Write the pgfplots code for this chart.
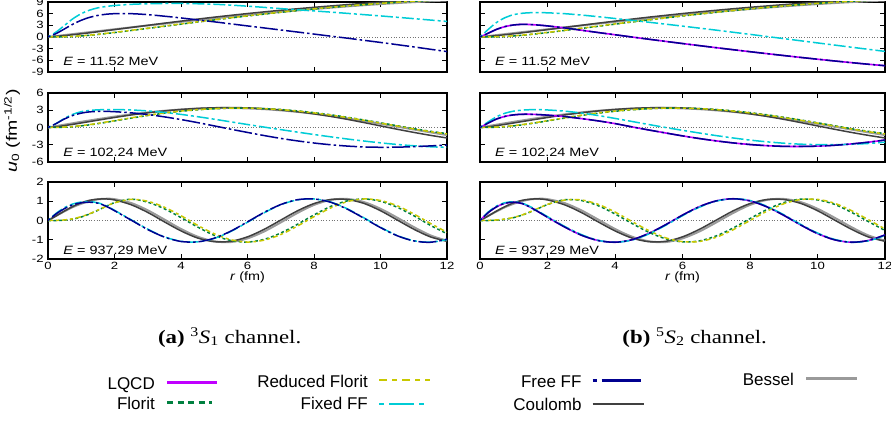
\documentclass[border=0pt]{standalone}
\usepackage{fontspec}
\setmainfont{Liberation Sans}
\newfontfamily\capfont{Liberation Serif}
\usepackage{pgfplots}
\pgfplotsset{compat=1.18}
\usepackage{pgfplotstable}

\definecolor{clqcd}{HTML}{C000FF}
\definecolor{cflo}{HTML}{008040}
\definecolor{crflo}{HTML}{C8C800}
\definecolor{cfix}{HTML}{00CCD6}
\definecolor{cfree}{HTML}{000090}
\definecolor{ccou}{HTML}{404040}
\definecolor{cbes}{HTML}{9A9A9A}

% Bessel, Coulomb, Florit, Reduced Florit (same in both channels)
\pgfplotstableread{
r bes cou flo rfl
0 0 0 0 0
0.25 0.25 0.17 0.01 0.02
0.5 0.50 0.36 0.05 0.08
0.75 0.75 0.59 0.13 0.17
1 1.00 0.83 0.26 0.31
1.25 1.25 1.08 0.44 0.49
1.5 1.49 1.35 0.65 0.70
1.75 1.74 1.62 0.89 0.94
2 1.99 1.90 1.14 1.19
2.5 2.48 2.45 1.67 1.72
3 2.96 3.00 2.20 2.26
3.5 3.43 3.55 2.75 2.81
4 3.90 4.08 3.30 3.36
4.5 4.35 4.60 3.85 3.90
5 4.80 5.10 4.38 4.43
5.5 5.23 5.57 4.90 4.95
6 5.66 6.03 5.40 5.45
6.5 6.07 6.46 5.88 5.93
7 6.46 6.87 6.35 6.39
7.5 6.84 7.26 6.79 6.83
8 7.20 7.63 7.20 7.24
8.5 7.54 7.98 7.59 7.63
9 7.87 8.32 7.96 7.99
9.5 8.18 8.65 8.30 8.33
10 8.46 8.96 8.62 8.65
10.5 8.73 9.25 8.91 8.94
11 8.97 9.52 9.17 9.20
11.5 9.20 9.78 9.41 9.44
12 9.40 10.02 9.62 9.65
}\TopC

\pgfplotstableread{
r bes cou flo rfl
0 0 0 0 0
0.25 0.25 0.12 0.01 0.02
0.5 0.50 0.33 0.05 0.08
0.75 0.74 0.55 0.14 0.18
1 0.99 0.79 0.28 0.33
1.25 1.22 1.03 0.46 0.51
1.5 1.45 1.27 0.67 0.72
1.75 1.67 1.51 0.90 0.95
2 1.89 1.74 1.14 1.19
2.5 2.28 2.18 1.63 1.68
3 2.62 2.56 2.09 2.14
3.5 2.91 2.88 2.49 2.53
4 3.13 3.13 2.82 2.86
4.5 3.29 3.32 3.08 3.11
5 3.38 3.43 3.26 3.28
5.5 3.39 3.46 3.36 3.37
6 3.32 3.41 3.37 3.37
6.5 3.19 3.27 3.29 3.28
7 2.98 3.05 3.13 3.11
7.5 2.72 2.75 2.89 2.86
8 2.39 2.38 2.58 2.54
8.5 2.01 1.93 2.21 2.16
9 1.59 1.42 1.78 1.73
9.5 1.13 0.86 1.31 1.26
10 0.65 0.28 0.82 0.76
10.5 0.15 -0.30 0.31 0.26
11 -0.35 -0.85 -0.20 -0.25
11.5 -0.84 -1.36 -0.66 -0.72
12 -1.32 -1.82 -1.06 -1.12
}\MidC

\pgfplotstableread{
r bes cou
0 0 0
0.25 0.25 0.24
0.5 0.48 0.50
0.75 0.70 0.73
1 0.87 0.92
1.25 1.01 1.05
1.5 1.10 1.11
1.75 1.13 1.12
2 1.11 1.07
2.5 0.91 0.82
3 0.53 0.42
3.5 0.05 -0.07
4 -0.44 -0.54
4.5 -0.84 -0.91
5 -1.08 -1.10
5.5 -1.12 -1.08
6 -0.93 -0.85
6.5 -0.57 -0.46
7 -0.10 0.02
7.5 0.39 0.50
8 0.81 0.88
8.5 1.07 1.09
9 1.12 1.09
9.5 0.96 0.89
10 0.61 0.51
10.5 0.15 0.03
11 -0.34 -0.45
11.5 -0.77 -0.85
12 -1.05 -1.08
}\BotC

% 3S1 channel
\pgfplotstableread{
r fix free
0 0 0
0.25 1.3 0.9
0.5 3.0 2.1
0.75 4.7 3.3
1 6.0 4.3
1.25 6.9 5.05
1.5 7.5 5.55
1.75 7.85 5.85
2 8.1 6.0
2.5 8.4 6.0
3 8.55 5.75
3.5 8.62 5.35
4 8.62 4.9
4.5 8.55 4.4
5 8.42 3.9
5.5 8.2 3.38
6 7.92 2.85
6.5 7.62 2.33
7 7.3 1.8
7.5 7.0 1.28
8 6.7 0.75
8.5 6.4 0.22
9 6.08 -0.3
9.5 5.75 -0.85
10 5.42 -1.4
10.5 5.07 -1.97
11 4.72 -2.55
11.5 4.36 -3.15
12 4.0 -3.75
}\LT

\pgfplotstableread{
r fix free
0 0 0
0.25 0.7 0.7
0.5 1.6 1.5
0.75 2.3 2.1
1 2.75 2.5
1.25 2.97 2.72
1.5 3.07 2.8
1.75 3.12 2.8
2 3.12 2.75
2.5 3.05 2.55
3 2.88 2.25
3.5 2.62 1.85
4 2.28 1.38
4.5 1.88 0.85
5 1.44 0.28
5.5 0.98 -0.3
6 0.52 -0.86
6.5 0.07 -1.4
7 -0.37 -1.9
7.5 -0.8 -2.33
8 -1.22 -2.7
8.5 -1.62 -3.0
9 -2.0 -3.23
9.5 -2.35 -3.38
10 -2.67 -3.44
10.5 -2.95 -3.42
11 -3.18 -3.33
11.5 -3.35 -3.2
12 -3.46 -3.05
}\LM

\pgfplotstableread{
r flo rfl fix free
0 0 0 0 0
0.25 0.00 0.01 0.38 0.35
0.5 0.02 0.03 0.67 0.62
0.75 0.07 0.09 0.86 0.82
1 0.18 0.20 0.96 0.92
1.25 0.34 0.35 0.98 0.95
1.5 0.53 0.54 0.92 0.90
1.75 0.74 0.74 0.76 0.74
2 0.93 0.92 0.53 0.51
2.5 1.11 1.10 0.04 0.02
3 0.95 1.00 -0.45 -0.47
3.5 0.61 0.69 -0.85 -0.86
4 0.15 0.25 -1.08 -1.09
4.5 -0.34 -0.25 -1.11 -1.11
5 -0.77 -0.69 -0.93 -0.92
5.5 -1.04 -1.00 -0.57 -0.55
6 -1.12 -1.12 -0.09 -0.07
6.5 -0.98 -1.02 0.40 0.42
7 -0.65 -0.73 0.82 0.83
7.5 -0.20 -0.29 1.07 1.08
8 0.29 0.20 1.12 1.12
8.5 0.73 0.65 0.96 0.95
9 1.02 0.98 0.61 0.59
9.5 1.12 1.12 0.14 0.12
10 1.00 1.04 -0.35 -0.37
10.5 0.69 0.77 -0.78 -0.79
11 0.25 0.34 -1.05 -1.06
11.5 -0.25 -0.15 -1.13 -1.13
12 -0.69 -0.61 -0.99 -0.97
}\LB

% 5S2 channel
\pgfplotstableread{
r lq fix free
0 0 0 0
0.25 1.0 2.0 1.0
0.5 2.0 3.8 2.0
0.75 2.7 5.0 2.7
1 3.1 5.75 3.1
1.25 3.25 6.1 3.25
1.5 3.2 6.25 3.2
1.75 3.05 6.27 3.05
2 2.85 6.22 2.85
2.5 2.35 6.0 2.35
3 1.75 5.65 1.75
3.5 1.15 5.22 1.15
4 0.58 4.76 0.58
4.5 0.0 4.28 0.0
5 -0.57 3.8 -0.57
5.5 -1.13 3.3 -1.13
6 -1.68 2.8 -1.68
6.5 -2.22 2.28 -2.22
7 -2.75 1.76 -2.75
7.5 -3.27 1.22 -3.27
8 -3.78 0.68 -3.78
8.5 -4.28 0.13 -4.28
9 -4.77 -0.42 -4.77
9.5 -5.25 -0.97 -5.25
10 -5.71 -1.52 -5.71
10.5 -6.16 -2.07 -6.16
11 -6.59 -2.62 -6.59
11.5 -7.0 -3.16 -7.0
12 -7.38 -3.7 -7.38
}\RT

\pgfplotstableread{
r lq fix free
0 0 0 0
0.25 0.8 1.0 0.8
0.5 1.5 1.9 1.5
0.75 1.95 2.5 1.95
1 2.2 2.85 2.2
1.25 2.3 3.02 2.3
1.5 2.3 3.1 2.3
1.75 2.24 3.1 2.24
2 2.15 3.05 2.15
2.5 1.9 2.85 1.9
3 1.55 2.52 1.55
3.5 1.15 2.08 1.15
4 0.68 1.58 0.68
4.5 0.11 1.05 0.11
5 -0.43 0.52 -0.43
5.5 -0.95 0.0 -0.95
6 -1.46 -0.49 -1.46
6.5 -1.92 -0.96 -1.92
7 -2.33 -1.41 -2.33
7.5 -2.68 -1.82 -2.68
8 -2.96 -2.19 -2.96
8.5 -3.16 -2.49 -3.16
9 -3.28 -2.73 -3.28
9.5 -3.3 -2.9 -3.3
10 -3.24 -2.98 -3.24
10.5 -3.09 -2.99 -3.09
11 -2.86 -2.92 -2.86
11.5 -2.56 -2.78 -2.56
12 -2.18 -2.56 -2.18
}\RM

\pgfplotstableread{
r lq flo rfl fix free
0 0 0 0 0 0
0.25 0.42 0.00 0.01 0.45 0.42
0.5 0.72 0.02 0.03 0.76 0.72
0.75 0.90 0.06 0.08 0.93 0.90
1 0.95 0.15 0.16 0.97 0.95
1.25 0.88 0.28 0.29 0.90 0.88
1.5 0.68 0.45 0.46 0.71 0.68
1.75 0.43 0.64 0.65 0.46 0.43
2 0.17 0.83 0.84 0.20 0.17
2.5 -0.33 1.08 1.06 -0.30 -0.33
3 -0.76 1.04 1.07 -0.73 -0.76
3.5 -1.04 0.77 0.84 -1.03 -1.04
4 -1.13 0.34 0.44 -1.13 -1.13
4.5 -1.00 -0.15 -0.05 -1.02 -1.00
5 -0.67 -0.61 -0.52 -0.70 -0.67
5.5 -0.22 -0.95 -0.90 -0.25 -0.22
6 0.28 -1.11 -1.10 0.25 0.28
6.5 0.72 -1.06 -1.09 0.69 0.72
7 1.02 -0.80 -0.87 1.01 1.02
7.5 1.13 -0.39 -0.48 1.13 1.13
8 1.02 0.10 0.00 1.04 1.02
8.5 0.71 0.57 0.48 0.74 0.71
9 0.27 0.93 0.87 0.30 0.27
9.5 -0.23 1.11 1.09 -0.20 -0.23
10 -0.68 1.07 1.10 -0.65 -0.68
10.5 -1.00 0.84 0.90 -0.98 -1.00
11 -1.13 0.43 0.52 -1.13 -1.13
11.5 -1.04 -0.05 0.05 -1.06 -1.04
12 -0.75 -0.52 -0.44 -0.78 -0.75
}\RB

\pgfplotsset{
  panel/.style={
    scale only axis, anchor=south west,
    xmin=0, xmax=12, xtick={0,2,...,12}, xticklabels={},
    tick align=inside, major tick length=5pt,
    tick style={black, line width=0.8pt},
    axis line style={line width=1.1pt},
    tick label style={font=\fontsize{10.5}{12}\selectfont, xscale=1.25},
    every axis plot/.append style={smooth, no markers},
  },
  bes/.style={cbes, line width=2pt},
  cou/.style={ccou, line width=1.5pt},
  lqcd/.style={clqcd, line width=1.6pt},
  flo/.style={cflo, line width=1.5pt, dash pattern=on 3pt off 2.5pt},
  rflo/.style={crflo, line width=1.5pt, dash pattern=on 5pt off 3pt on 3pt off 3pt},
  fix/.style={cfix, line width=1.5pt, dash pattern=on 3pt off 3pt on 12pt off 3pt},
  free/.style={cfree, line width=1.5pt, dash pattern=on 2.5pt off 3pt on 18pt off 3pt},
  rlab/.style={xlabel={\textit{r} (fm)},
    xlabel style={font=\fontsize{12}{14}\selectfont, xscale=1.2,
      at={(axis description cs:0.5,0)}, anchor=center, yshift=-18pt}},
}
\newcommand{\zeroline}{\draw[black!55, dotted, line width=0.7pt] (axis cs:0,0) -- (axis cs:12,0);}
\tikzset{
  legt/.style={anchor=base east, inner sep=0pt, font=\fontsize{17}{20}\selectfont},
  elab/.style={anchor=west, inner sep=0pt, font=\fontsize{12}{14}\selectfont, xscale=1.2},
}

\begin{document}
\begin{tikzpicture}
\useasboundingbox (0,0) rectangle (891pt,421pt);

% ---- 3S1 ----
\begin{axis}[panel, at={(48pt,349pt)}, width=399pt, height=70pt,
  ymin=-9, ymax=9, ytick={-9,-6,...,9}, yticklabels={-9,-6,-3,0,3,6,9}]
\zeroline
\addplot[bes] table[x=r,y=bes]{\TopC};
\addplot[cou] table[x=r,y=cou]{\TopC};
\addplot[flo] table[x=r,y=flo]{\TopC};
\addplot[rflo] table[x=r,y=rfl]{\TopC};
\addplot[fix] table[x=r,y=fix]{\LT};
\addplot[free] table[x=r,y=free]{\LT};
\node[elab] at (axis description cs:0.038,0.157) {\textit{E} = 11.52 MeV};
\end{axis}

\begin{axis}[panel, at={(48pt,259pt)}, width=399pt, height=69pt,
  ymin=-6, ymax=6, ytick={-6,-3,...,6}, yticklabels={-6,-3,0,3,6}]
\zeroline
\addplot[bes] table[x=r,y=bes]{\MidC};
\addplot[cou] table[x=r,y=cou]{\MidC};
\addplot[flo] table[x=r,y=flo]{\MidC};
\addplot[rflo] table[x=r,y=rfl]{\MidC};
\addplot[fix] table[x=r,y=fix]{\LM};
\addplot[free] table[x=r,y=free]{\LM};
\node[elab] at (axis description cs:0.038,0.138) {\textit{E} = 102.24 MeV};
\end{axis}

\begin{axis}[panel, rlab, at={(48pt,162pt)}, width=399pt, height=77pt,
  ymin=-2, ymax=2, ytick={-2,-1,...,2}, yticklabels={-2,-1,0,1,2},
  xticklabels={0,2,4,6,8,10,12}]
\zeroline
\addplot[bes] table[x=r,y=bes]{\BotC};
\addplot[cou] table[x=r,y=cou]{\BotC};
\addplot[flo] table[x=r,y=flo]{\LB};
\addplot[rflo] table[x=r,y=rfl]{\LB};
\addplot[fix] table[x=r,y=fix]{\LB};
\addplot[free] table[x=r,y=free]{\LB};
\node[elab] at (axis description cs:0.038,0.117) {\textit{E} = 937.29 MeV};
\end{axis}

% ---- 5S2 ----
\begin{axis}[panel, at={(480pt,349pt)}, width=405pt, height=70pt,
  ymin=-9, ymax=9, ytick={-9,-6,...,9}, yticklabels={}]
\zeroline
\addplot[bes] table[x=r,y=bes]{\TopC};
\addplot[cou] table[x=r,y=cou]{\TopC};
\addplot[lqcd] table[x=r,y=lq]{\RT};
\addplot[flo] table[x=r,y=flo]{\TopC};
\addplot[rflo] table[x=r,y=rfl]{\TopC};
\addplot[fix] table[x=r,y=fix]{\RT};
\addplot[free] table[x=r,y=free]{\RT};
\node[elab] at (axis description cs:0.037,0.157) {\textit{E} = 11.52 MeV};
\end{axis}

\begin{axis}[panel, at={(480pt,259pt)}, width=405pt, height=69pt,
  ymin=-6, ymax=6, ytick={-6,-3,...,6}, yticklabels={}]
\zeroline
\addplot[bes] table[x=r,y=bes]{\MidC};
\addplot[cou] table[x=r,y=cou]{\MidC};
\addplot[lqcd] table[x=r,y=lq]{\RM};
\addplot[flo] table[x=r,y=flo]{\MidC};
\addplot[rflo] table[x=r,y=rfl]{\MidC};
\addplot[fix] table[x=r,y=fix]{\RM};
\addplot[free] table[x=r,y=free]{\RM};
\node[elab] at (axis description cs:0.037,0.138) {\textit{E} = 102.24 MeV};
\end{axis}

\begin{axis}[panel, rlab, at={(480pt,162pt)}, width=405pt, height=77pt,
  ymin=-2, ymax=2, ytick={-2,-1,...,2}, yticklabels={},
  xticklabels={0,2,4,6,8,10,12}]
\zeroline
\addplot[bes] table[x=r,y=bes]{\BotC};
\addplot[cou] table[x=r,y=cou]{\BotC};
\addplot[lqcd] table[x=r,y=lq]{\RB};
\addplot[flo] table[x=r,y=flo]{\RB};
\addplot[rflo] table[x=r,y=rfl]{\RB};
\addplot[fix] table[x=r,y=fix]{\RB};
\addplot[free] table[x=r,y=free]{\RB};
\node[elab] at (axis description cs:0.037,0.117) {\textit{E} = 937.29 MeV};
\end{axis}

% y label
\node[rotate=90, xscale=1.3, font=\fontsize{15}{17}\selectfont] at (12pt,290pt)
  {\textit{u}\textsubscript{0} (fm\textsuperscript{-1/2})};

% captions
\node[anchor=base, font=\capfont\fontsize{19}{22}\selectfont, xscale=1.2] at (229.7pt,78pt)
  {\textbf{(a)} \textsuperscript{3}\textit{S}\textsubscript{1} channel.};
\node[anchor=base, font=\capfont\fontsize{19}{22}\selectfont, xscale=1.2] at (694.7pt,78pt)
  {\textbf{(b)} \textsuperscript{5}\textit{S}\textsubscript{2} channel.};

% legend
\node[legt] at (155pt,32pt) {LQCD};
\draw[clqcd, line width=2.8pt] (167pt,38.3pt) -- (217pt,38.3pt);
\node[legt] at (155pt,12pt) {Florit};
\draw[cflo, line width=2.5pt, dash pattern=on 6pt off 4.5pt] (167pt,18.3pt) -- (212pt,18.3pt);
\node[legt] at (368pt,33.7pt) {Reduced Florit};
\draw[crflo, line width=2.5pt, dash pattern=on 8pt off 5pt on 5pt off 5pt] (379pt,41pt) -- (430pt,41pt);
\node[legt] at (368pt,11.7pt) {Fixed FF};
\draw[cfix, line width=2.5pt, dash pattern=on 5pt off 5pt on 25pt off 5pt] (379pt,17pt) -- (426pt,17pt);
\node[legt] at (581.7pt,34pt) {Free FF};
\draw[cfree, line width=2.5pt, dash pattern=on 4pt off 5pt on 40pt off 5pt] (592.7pt,40.7pt) -- (641pt,40.7pt);
\node[legt] at (581.7pt,11pt) {Coulomb};
\draw[ccou, line width=2.5pt] (592.7pt,17pt) -- (644.3pt,17pt);
\node[legt] at (794pt,36pt) {Bessel};
\draw[cbes, line width=2.5pt] (806pt,42.7pt) -- (856.7pt,42.7pt);

\end{tikzpicture}
\end{document}
